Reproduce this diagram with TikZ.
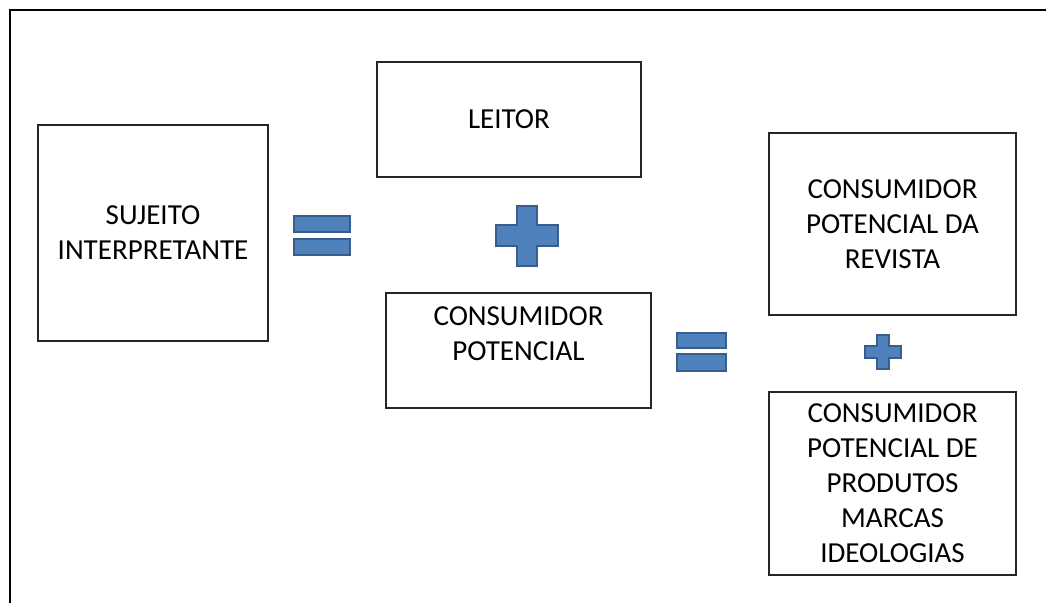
\documentclass[tikz,border=0pt]{standalone}
\usepackage{fontspec}
\setmainfont{Carlito}
\usetikzlibrary{shadows}
\definecolor{symfill}{HTML}{4F81BD}
\definecolor{symline}{HTML}{385D8A}
\begin{document}
\begin{tikzpicture}[x=1pt,y=-1pt,
  boxtext/.style={align=center, font=\fontsize{29}{35}\selectfont, inner sep=0pt},
  box/.style={boxtext, draw=black!85, line width=1.4pt, fill=white,
    drop shadow={shadow xshift=1.2pt, shadow yshift=-1.2pt, opacity=0.35, fill=black}},
  sym/.style={fill=symfill, draw=symline, line width=2.4pt, line join=miter}
]
\useasboundingbox (0,0) rectangle (1046,603);

% outer frame (top and left edges)
\draw[line width=2.5pt, line join=miter] (10,603) -- (10,10) -- (1046,10);

% boxes
\node[box, minimum width=230pt, minimum height=216pt] (sujeito) at (153,233) {SUJEITO\\INTERPRETANTE};
\node[box, minimum width=264pt, minimum height=115pt] (leitor) at (509,119.5) {LEITOR};
\node[box, minimum width=265pt, minimum height=115pt] (potencial) at (518.5,350.5) {};
\node[boxtext] (potencialtxt) at ([yshift=16.5pt]potencial.center) {CONSUMIDOR\\POTENCIAL};
\node[box, minimum width=247pt, minimum height=182pt] (revista) at (892.5,224) {CONSUMIDOR\\POTENCIAL DA\\REVISTA};
\node[box, minimum width=247pt, minimum height=183pt] (produtos) at (892.5,483.5) {CONSUMIDOR\\POTENCIAL DE\\PRODUTOS\\MARCAS\\IDEOLOGIAS};

% equals sign between subject and reader
\draw[sym] (294,216) rectangle (350,232);
\draw[sym] (294,239) rectangle (350,255);

% plus sign between reader and potential consumer
\draw[sym] (517,206) -- (537,206) -- (537,225) -- (558,225) -- (558,246) -- (537,246)
  -- (537,266) -- (517,266) -- (517,246) -- (496,246) -- (496,225) -- (517,225) -- cycle;

% equals sign after potential consumer
\draw[sym] (677,333) rectangle (726,348);
\draw[sym] (677,354) rectangle (726,371);

% small plus sign between the two right boxes
\draw[sym, line width=2pt] (877,335) -- (889,335) -- (889,346) -- (901,346) -- (901,358) -- (889,358)
  -- (889,369) -- (877,369) -- (877,358) -- (865,358) -- (865,346) -- (877,346) -- cycle;
\end{tikzpicture}
\end{document}
